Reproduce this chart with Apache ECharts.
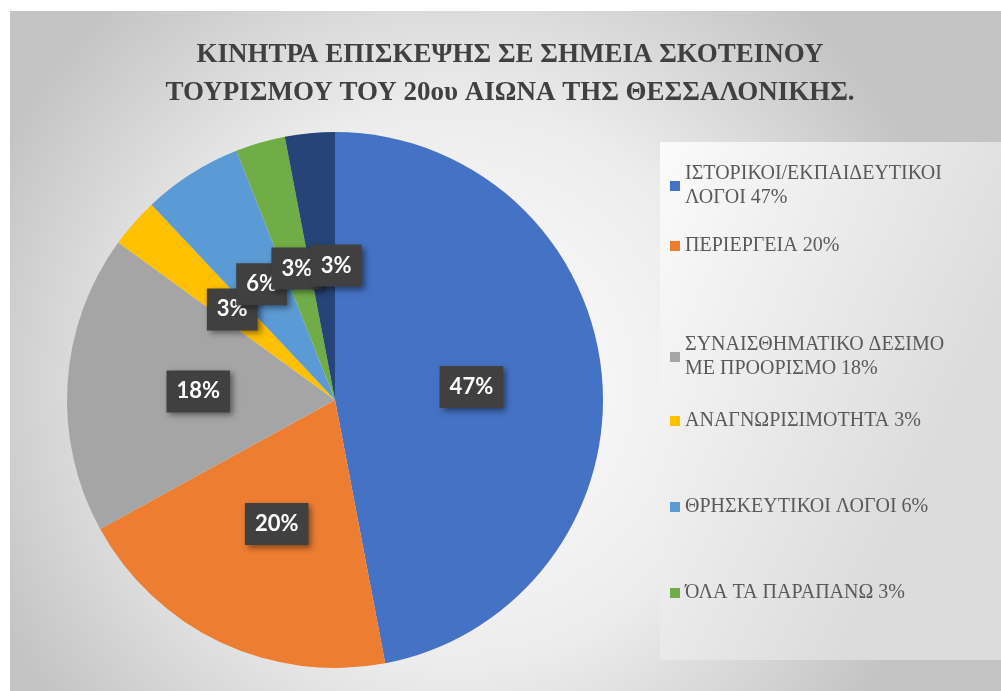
<!DOCTYPE html>
<html>
<head>
<meta charset="utf-8">
<script src="https://cdn.jsdelivr.net/npm/echarts@6/dist/echarts.min.js"></script>
<style>
    html, body { margin: 0; padding: 0; background: #ffffff; }
    #chart { width: 1001px; height: 691px; }
</style>
</head>
<body>
<div id="chart"></div>
<script>
// data
const titleText = 'ΚΙΝΗΤΡΑ ΕΠΙΣΚΕΨΗΣ ΣΕ ΣΗΜΕΙΑ ΣΚΟΤΕΙΝΟΥ\nΤΟΥΡΙΣΜΟΥ ΤΟΥ 20ου ΑΙΩΝΑ ΤΗΣ ΘΕΣΣΑΛΟΝΙΚΗΣ.'
const categories = [
    'ΙΣΤΟΡΙΚΟΙ/ΕΚΠΑΙΔΕΥΤΙΚΟΙ\nΛΟΓΟΙ 47%',
    'ΠΕΡΙΕΡΓΕΙΑ 20%',
    'ΣΥΝΑΙΣΘΗΜΑΤΙΚΟ ΔΕΣΙΜΟ\nΜΕ ΠΡΟΟΡΙΣΜΟ 18%',
    'ΑΝΑΓΝΩΡΙΣΙΜΟΤΗΤΑ 3%',
    'ΘΡΗΣΚΕΥΤΙΚΟΙ ΛΟΓΟΙ 6%',
    'ΌΛΑ ΤΑ ΠΑΡΑΠΑΝΩ 3%',
    'ΑΛΛΟ 3%'
]
const values = [47, 20, 18, 3, 6, 3, 3]
const colors = ['#4472C4', '#ED7D31', '#A5A5A5', '#FFC000', '#5B9BD5', '#70AD47', '#264478']
// only the first six entries are visible in the legend
const legendCount = 6

const serif = 'Tinos'

const chart = echarts.init(document.getElementById('chart'))

// legend rows (top of each row)
const legendTops = [150, 234, 321, 409, 495, 581]
const legends = categories.slice(0, legendCount).map((name, i) => ({
    data: [name],
    orient: 'vertical',
    left: 670,
    top: legendTops[i],
    padding: 0,
    itemWidth: 10,
    itemHeight: 10,
    icon: 'rect',
    selectedMode: false,
    textStyle: {
        fontFamily: serif,
        fontSize: 20,
        color: '#595959',
        lineHeight: 24,
        padding: name.indexOf('\n') >= 0 ? [24, 0, 0, 0] : 0
    }
}))

const option = {
    backgroundColor: '#ffffff',
    color: colors,
    graphic: [
        {
            type: 'rect',
            z: -10,
            shape: { x: 10, y: 11, width: 991, height: 680 },
            style: {
                fill: new echarts.graphic.RadialGradient(0.45, 0.55, 0.75, [
                    { offset: 0, color: '#ffffff' },
                    { offset: 0.55, color: '#ececec' },
                    { offset: 1, color: '#c4c4c4' }
                ])
            }
        },
        {
            type: 'rect',
            z: -9,
            shape: { x: 660, y: 142, width: 341, height: 518 },
            style: {
                fill: new echarts.graphic.LinearGradient(0, 0, 1, 0.3, [
                    { offset: 0, color: '#fbfbfb' },
                    { offset: 1, color: '#dcdcdc' }
                ])
            }
        }
    ],
    title: {
        text: titleText,
        left: 505,
        top: 31,
        textAlign: 'center',
        textStyle: {
            fontFamily: serif,
            fontWeight: 'bold',
            fontSize: 27,
            lineHeight: 38,
            color: '#404040'
        }
    },
    legend: legends,
    series: [
        {
            type: 'pie',
            center: [335, 400],
            radius: 268,
            startAngle: 90,
            clockwise: true,
            avoidLabelOverlap: false,
            silent: true,
            itemStyle: { borderWidth: 0 },
            labelLayout: { hideOverlap: false },
            label: {
                show: true,
                position: 'inside',
                formatter: p => p.value + '%',
                fontFamily: 'Lato',
                fontWeight: 'bold',
                fontSize: 22,
                lineHeight: 22,
                color: '#ffffff',
                backgroundColor: '#404040',
                padding: [11, 10, 9, 10],
                shadowColor: 'rgba(0,0,0,0.45)',
                shadowBlur: 6,
                shadowOffsetX: 3,
                shadowOffsetY: 3
            },
            labelLine: { show: false },
            data: categories.map((name, i) => ({
                name: name,
                value: values[i],
                // last label sits a bit to the right in the original
                label: i === categories.length - 1 ? { offset: [14, 2] } : undefined
            }))
        }
    ]
}
chart.setOption(option)
</script>
</body>
</html>
